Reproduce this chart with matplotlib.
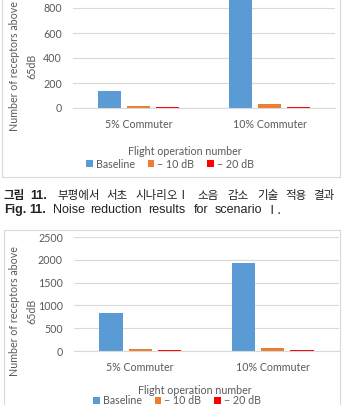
import matplotlib
matplotlib.use('Agg')
import matplotlib.pyplot as plt
from matplotlib.patches import Rectangle
import numpy as np

# ── Data ──────────────────────────────────────────────────────────────────────
categories = ['5% Commuter', '10% Commuter']
series_names = ['Baseline', '− 10 dB', '− 20 dB']

# Fig. 11 (top chart, cropped at the top)
fig11_baseline = [135, 950]
fig11_minus10 = [20, 35]
fig11_minus20 = [5, 10]
fig11_yticks = [0, 200, 400, 600, 800]
fig11_ymax = 1000

# next figure (bottom chart, cropped at the bottom)
fig12_baseline = [840, 1940]
fig12_minus10 = [40, 65]
fig12_minus20 = [20, 20]
fig12_yticks = [0, 500, 1000, 1500, 2000, 2500]
fig12_ymax = 2500

COLORS = ['#5B9BD5', '#ED7D31', '#FF0000']
TXT = '#595959'
GRID = '#D9D9D9'
CHART_FONT = 'Lato'
FS = 7.7

W, H = 349, 405
fig = plt.figure(figsize=(W / 100, H / 100), dpi=100)


def fx(px):
    return px / W


def fy(py):
    return 1 - py / H


def make_chart(left, right, y0, y_top, yticks, ymax, series,
               ylab_y, xlab, leg):
    ax = fig.add_axes([fx(left), fy(y0), fx(right - left), (y0 - y_top) / H])
    x = np.arange(len(categories))
    width, step = 0.176, 0.22
    handles = []
    for i, vals in enumerate(series):
        h = ax.bar(x + (i - 1) * step, vals, width, color=COLORS[i],
                   label=series_names[i], zorder=3)
        handles.append(h)
    ax.set_xlim(-0.5, len(categories) - 0.5)
    ax.set_ylim(0, ymax)
    ax.set_yticks(yticks)
    ax.set_xticks(x)
    ax.set_xticklabels(categories, fontsize=FS, color=TXT, family=CHART_FONT)
    ax.tick_params(axis='y', labelsize=FS, labelcolor=TXT, length=0, pad=8)
    ax.tick_params(axis='x', length=0, pad=8)
    for lab in ax.get_yticklabels():
        lab.set_family(CHART_FONT)
    ax.grid(axis='y', color=GRID, lw=0.8, zorder=0)
    for s in ['top', 'right', 'left']:
        ax.spines[s].set_visible(False)
    ax.spines['bottom'].set_color(GRID)
    ax.spines['bottom'].set_zorder(4)
    ax.set_facecolor('none')

    fig.text(fx(15), fy(ylab_y), 'Number of receptors above', rotation=90,
             ha='center', va='center', fontsize=FS, color=TXT, family=CHART_FONT)
    fig.text(fx(32), fy(ylab_y), '65dB', rotation=90,
             ha='center', va='center', fontsize=FS, color=TXT, family=CHART_FONT)
    fig.text(fx(xlab[0]), fy(xlab[1]), 'Flight operation number', ha='center',
             va='center', fontsize=FS, color=TXT, family=CHART_FONT)
    fig.legend(handles=handles, loc='center', bbox_to_anchor=(fx(leg[0]), fy(leg[1])),
               ncol=3, frameon=False, handlelength=0.6, handleheight=0.6,
               handletextpad=0.3, columnspacing=1.2, borderpad=0,
               prop={'family': CHART_FONT, 'size': FS}, labelcolor=TXT)
    return ax


top_series = [fig11_baseline, fig11_minus10, fig11_minus20]
bot_series = [fig12_baseline, fig12_minus10, fig12_minus20]

make_chart(73, 335, 108, 108 - 125, fig11_yticks, fig11_ymax, top_series,
           66, (185, 151), (170, 164))
make_chart(74, 339, 351, 237, fig12_yticks, fig12_ymax, bot_series,
           311, (195, 390), (177, 401))

# chart frames
fig.patches.append(Rectangle((fx(2), fy(177)), fx(338), (177 + 20) / H,
                             transform=fig.transFigure, fill=False,
                             ec=GRID, lw=0.8))
fig.patches.append(Rectangle((fx(4), fy(430)), fx(336), 200 / H,
                             transform=fig.transFigure, fill=False,
                             ec=GRID, lw=0.8))

# ── Caption (justified, word by word) ─────────────────────────────────────────
KR = ['Noto Sans CJK KR', 'DejaVu Sans']
EN = ['Liberation Sans', 'Noto Sans CJK KR']
kr_words = [('그림', 4, 'bold'), ('11.', 30, 'bold'), ('부평에서', 57, 'normal'),
            ('서초', 106, 'normal'), ('시나리오Ⅰ', 135, 'normal'),
            ('소음', 197, 'normal'), ('감소', 227, 'normal'), ('기술', 257, 'normal'),
            ('적용', 285, 'normal'), ('결과', 313, 'normal')]
for w, xp, wt in kr_words:
    fam = EN if w == '11.' else KR
    fs = 9 if w == '11.' else 8.3
    fig.text(fx(xp), fy(196), w, ha='left', va='center', fontsize=fs,
             weight=wt, family=fam, color='#222222')

en_words = [('Fig.', 4, 'bold'), ('11.', 29, 'bold'), ('Noise', 53, 'normal'),
            ('reduction', 90, 'normal'), ('results', 148, 'normal'),
            ('for', 194, 'normal'), ('scenario', 215, 'normal'),
            ('Ⅰ.', 265, 'normal')]
for w, xp, wt in en_words:
    fam = KR if w == 'Ⅰ.' else EN
    fig.text(fx(xp), fy(210.5), w, ha='left', va='center', fontsize=9,
             weight=wt, family=fam, color='#222222')

fig.savefig('out.png', dpi=100)
